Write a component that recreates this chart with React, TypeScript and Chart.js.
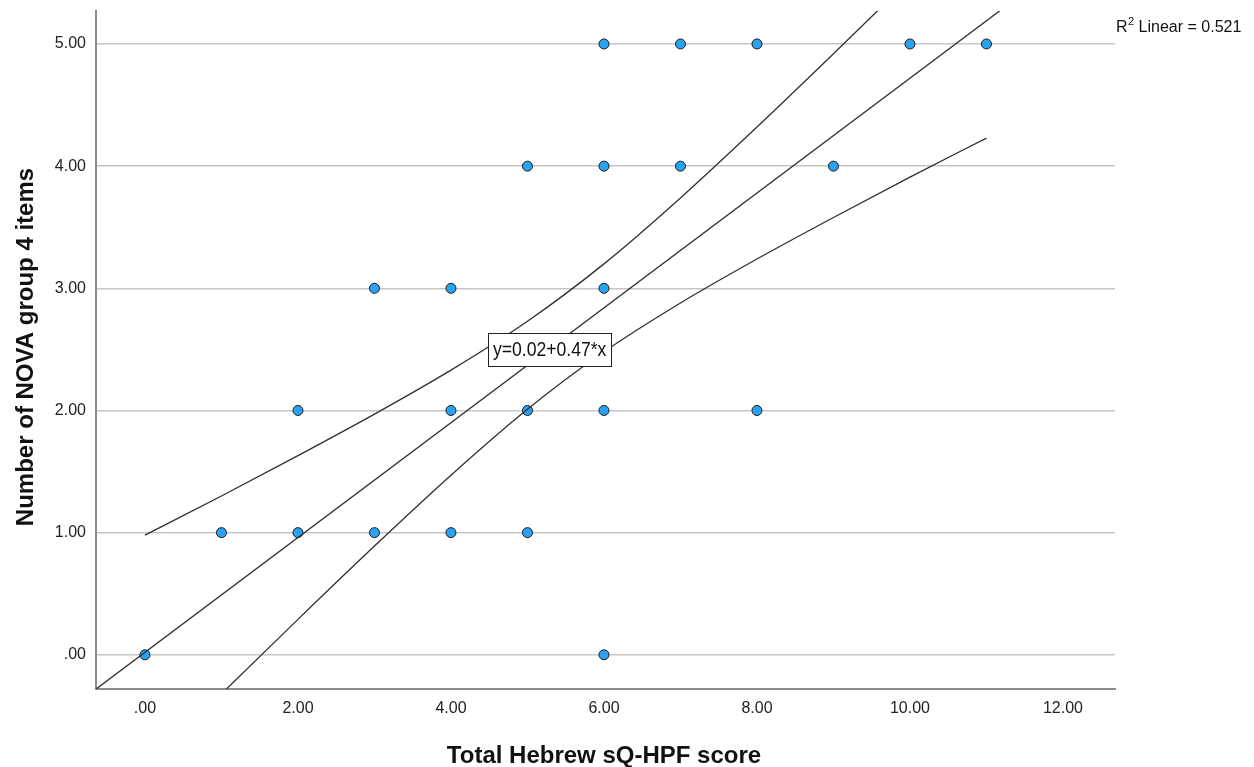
import React, { useEffect, useRef } from 'react';
import { Chart, registerables } from 'chart.js';

Chart.register(...registerables);

// Observed data (Total Hebrew sQ-HPF score vs Number of NOVA group 4 items)
const scoreValues = [0, 1, 2, 2, 3, 3, 4, 4, 4, 5, 5, 5, 6, 6, 6, 6, 6, 7, 7, 8, 8, 9, 10, 11];
const novaValues = [0, 1, 1, 2, 1, 3, 1, 2, 3, 1, 2, 4, 0, 2, 3, 4, 5, 4, 5, 2, 5, 4, 5, 5];

// Fit line (from the chart label y=0.02+0.47*x), drawn across the axis range
const fitIntercept = 0.02;
const fitSlope = 0.47;
const fitLineX = [-0.64, 12.68];

// Confidence band curves
const ciX = [0, 1, 2, 3, 4, 5, 6, 7, 8, 9, 10, 11];
const ciUpper = [0.98, 1.3, 1.63, 1.97, 2.33, 2.73, 3.2, 3.74, 4.32, 4.92, 5.53, 6.15];
const ciLower = [-0.94, -0.32, 0.29, 0.89, 1.47, 2.01, 2.48, 2.88, 3.24, 3.58, 3.91, 4.23];

// Axis ticks
const xTickValues = [0, 2, 4, 6, 8, 10, 12];
const xTickLabels = ['.00', '2.00', '4.00', '6.00', '8.00', '10.00', '12.00'];
const yTickValues = [0, 1, 2, 3, 4, 5];
const yTickLabels = ['.00', '1.00', '2.00', '3.00', '4.00', '5.00'];

const xTitle = 'Total Hebrew sQ-HPF score';
const yTitle = 'Number of NOVA group 4 items';
const fitLabel = 'y=0.02+0.47*x';
const r2Value = '0.521';

const FONT = '"Liberation Sans", Arial, Helvetica, sans-serif';

const overlayPlugin = {
  id: 'spssOverlay',
  afterDraw(chart: any) {
    const ctx = chart.ctx as CanvasRenderingContext2D;
    const xs = chart.scales.x;
    const ys = chart.scales.y;
    ctx.save();
    ctx.fillStyle = '#111';

    // X title
    ctx.font = `bold 24px ${FONT}`;
    ctx.textAlign = 'center';
    ctx.textBaseline = 'alphabetic';
    ctx.fillText(xTitle, 604, 763);

    // Y title
    ctx.save();
    ctx.translate(33, 347);
    ctx.rotate(-Math.PI / 2);
    ctx.fillText(yTitle, 0, 0);
    ctx.restore();

    // R² label
    ctx.textAlign = 'left';
    ctx.font = `16px ${FONT}`;
    let x = 1116;
    const base = 32;
    ctx.fillText('R', x, base);
    x += ctx.measureText('R').width;
    ctx.font = `11px ${FONT}`;
    ctx.fillText('2', x + 0.5, base - 7);
    x += ctx.measureText('2').width + 0.5;
    ctx.font = `16px ${FONT}`;
    ctx.fillText(' Linear = ' + r2Value, x, base);

    // Fit equation box
    const cx = xs.getPixelForValue(5.29);
    const cy = ys.getPixelForValue(2.5);
    const bw = 123;
    const bh = 33;
    const bx = Math.round(cx - bw / 2) + 0.5;
    const by = Math.round(cy - bh / 2) + 0.5;
    ctx.fillStyle = '#ffffff';
    ctx.fillRect(bx, by, bw, bh);
    ctx.strokeStyle = '#222';
    ctx.lineWidth = 1;
    ctx.strokeRect(bx, by, bw, bh);
    ctx.fillStyle = '#111';
    ctx.save();
    ctx.translate(cx, cy + 1);
    ctx.scale(0.88, 1);
    ctx.font = `20px ${FONT}`;
    ctx.textAlign = 'center';
    ctx.textBaseline = 'middle';
    ctx.fillText(fitLabel, 0, 0);
    ctx.restore();

    ctx.restore();
  },
};

export default function App() {
  const canvasRef = useRef<HTMLCanvasElement | null>(null);

  useEffect(() => {
    const canvas = canvasRef.current;
    if (!canvas) return;

    const points = scoreValues.map((v, i) => ({ x: v, y: novaValues[i] }));
    const fitPoints = fitLineX.map((v) => ({ x: v, y: fitIntercept + fitSlope * v }));
    const upperPoints = ciX.map((v, i) => ({ x: v, y: ciUpper[i] }));
    const lowerPoints = ciX.map((v, i) => ({ x: v, y: ciLower[i] }));

    const lineStyle = {
      showLine: true,
      borderColor: '#2f2f2f',
      borderWidth: 1.3,
      pointRadius: 0,
      pointHoverRadius: 0,
      fill: false,
      cubicInterpolationMode: 'monotone' as const,
    };

    const tickFont = { family: FONT, size: 16 };

    const chart = new Chart(canvas, {
      type: 'scatter',
      data: {
        datasets: [
          { label: 'Fit', data: fitPoints, ...lineStyle },
          { label: 'Upper', data: upperPoints, ...lineStyle },
          { label: 'Lower', data: lowerPoints, ...lineStyle },
          {
            label: 'Observed',
            data: points,
            showLine: false,
            pointRadius: 5,
            pointHoverRadius: 5,
            pointBorderWidth: 1,
            pointBackgroundColor: '#2aa2f4',
            pointBorderColor: '#1b1b1b',
          },
        ],
      },
      options: {
        animation: false,
        responsive: false,
        maintainAspectRatio: false,
        devicePixelRatio: 1,
        layout: { padding: { left: 0, right: 139, top: 11, bottom: 0 } },
        plugins: {
          legend: { display: false },
          tooltip: { enabled: false },
        },
        scales: {
          x: {
            type: 'linear',
            min: -0.64,
            max: 12.68,
            afterBuildTicks: (s: any) => {
              s.ticks = xTickValues.map((v) => ({ value: v }));
            },
            afterFit: (s: any) => {
              s.height = 78;
              s.paddingLeft = 0;
              s.paddingRight = 0;
            },
            grid: { display: true, color: 'rgba(0,0,0,0)', drawTicks: false },
            border: { display: true, color: '#8a8a8a', width: 2 },
            ticks: {
              autoSkip: false,
              maxRotation: 0,
              padding: 10,
              color: '#222',
              font: tickFont,
              callback: (v: any) => {
                const i = xTickValues.indexOf(Number(v));
                return i >= 0 ? xTickLabels[i] : '';
              },
            },
          },
          y: {
            type: 'linear',
            min: -0.28,
            max: 5.27,
            afterBuildTicks: (s: any) => {
              s.ticks = yTickValues.map((v) => ({ value: v }));
            },
            afterFit: (s: any) => {
              s.width = 96;
              s.paddingTop = 0;
              s.paddingBottom = 0;
            },
            grid: { display: true, color: '#c6c6c6', lineWidth: 1.6, drawTicks: false },
            border: { display: true, color: '#8a8a8a', width: 2 },
            ticks: {
              autoSkip: false,
              padding: 10,
              color: '#222',
              font: tickFont,
              callback: (v: any) => {
                const i = yTickValues.indexOf(Number(v));
                return i >= 0 ? yTickLabels[i] : '';
              },
            },
          },
        },
      },
      plugins: [overlayPlugin],
    } as any);

    return () => {
      chart.destroy();
    };
  }, []);

  return (
    <div style={{ position: 'absolute', left: 0, top: 0, width: 1254, height: 767, background: '#fff' }}>
      <canvas ref={canvasRef} width={1254} height={767} style={{ width: 1254, height: 767, display: 'block' }} />
    </div>
  );
}
